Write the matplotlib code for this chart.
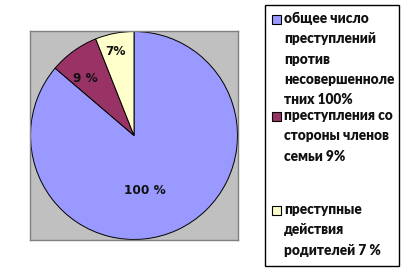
import matplotlib

matplotlib.use("Agg")
import matplotlib.pyplot as plt
from matplotlib.patches import Rectangle

# Slice values (percent labels as shown on the chart)
values = [100, 9, 7]
slice_labels = ["100 %", "9 %", "7%"]
colors = ["#9999ff", "#993366", "#ffffcc"]
legend_labels = [
    "общее число\nпреступлений\nпротив\nнесовершенноле\nтних 100%",
    "преступления со\nстороны членов\nсемьи 9%",
    "преступные\nдействия\nродителей 7 %",
]

W, H = 410, 273
fig = plt.figure(figsize=(W / 100, H / 100), dpi=100)
fig.patch.set_facecolor("white")

# plot area (grey box)
ax = fig.add_axes([30 / W, 1 - 240 / H, 208 / W, 209 / H])

wedges, _ = ax.pie(
    values,
    colors=colors,
    startangle=90,
    counterclock=False,
    radius=0.995,
    wedgeprops={"edgecolor": "black", "linewidth": 0.7},
)
ax.set_frame_on(True)
ax.set_facecolor("#c0c0c0")
for sp in ax.spines.values():
    sp.set_visible(True)
    sp.set_color("#808080")
    sp.set_linewidth(1.0)
ax.set_xlim(-1.0, 1.0)
ax.set_ylim(-1.0, 1.0)
ax.set_aspect("auto")
ax.set_xticks([])
ax.set_yticks([])

# data labels, placed roughly where the original put them
label_pos = [(0.10, -0.53), (-0.47, 0.55), (-0.18, 0.80)]
for txt, (x, y) in zip(slice_labels, label_pos):
    ax.text(x, y, txt, ha="center", va="center", fontsize=8.7,
            fontweight="bold", family="DejaVu Sans", color="#111111")

# legend box
fig.patches.append(Rectangle((265 / W, 1 - 266 / H), 134 / W, 261 / H,
                             transform=fig.transFigure, facecolor="white",
                             edgecolor="black", linewidth=1.0))

entry_tops = [12, 109, 203]
for lab, col, top in zip(legend_labels, colors, entry_tops):
    fig.patches.append(Rectangle((272 / W, 1 - (top + 12) / H), 9 / W, 9 / H,
                                 transform=fig.transFigure, facecolor=col,
                                 edgecolor="black", linewidth=0.8))
    fig.text(284 / W, 1 - top / H, lab, ha="left", va="top", fontsize=9.8,
             fontweight="heavy", family="Lato", linespacing=1.66,
             color="#111111")

fig.savefig("out.png", dpi=100)
